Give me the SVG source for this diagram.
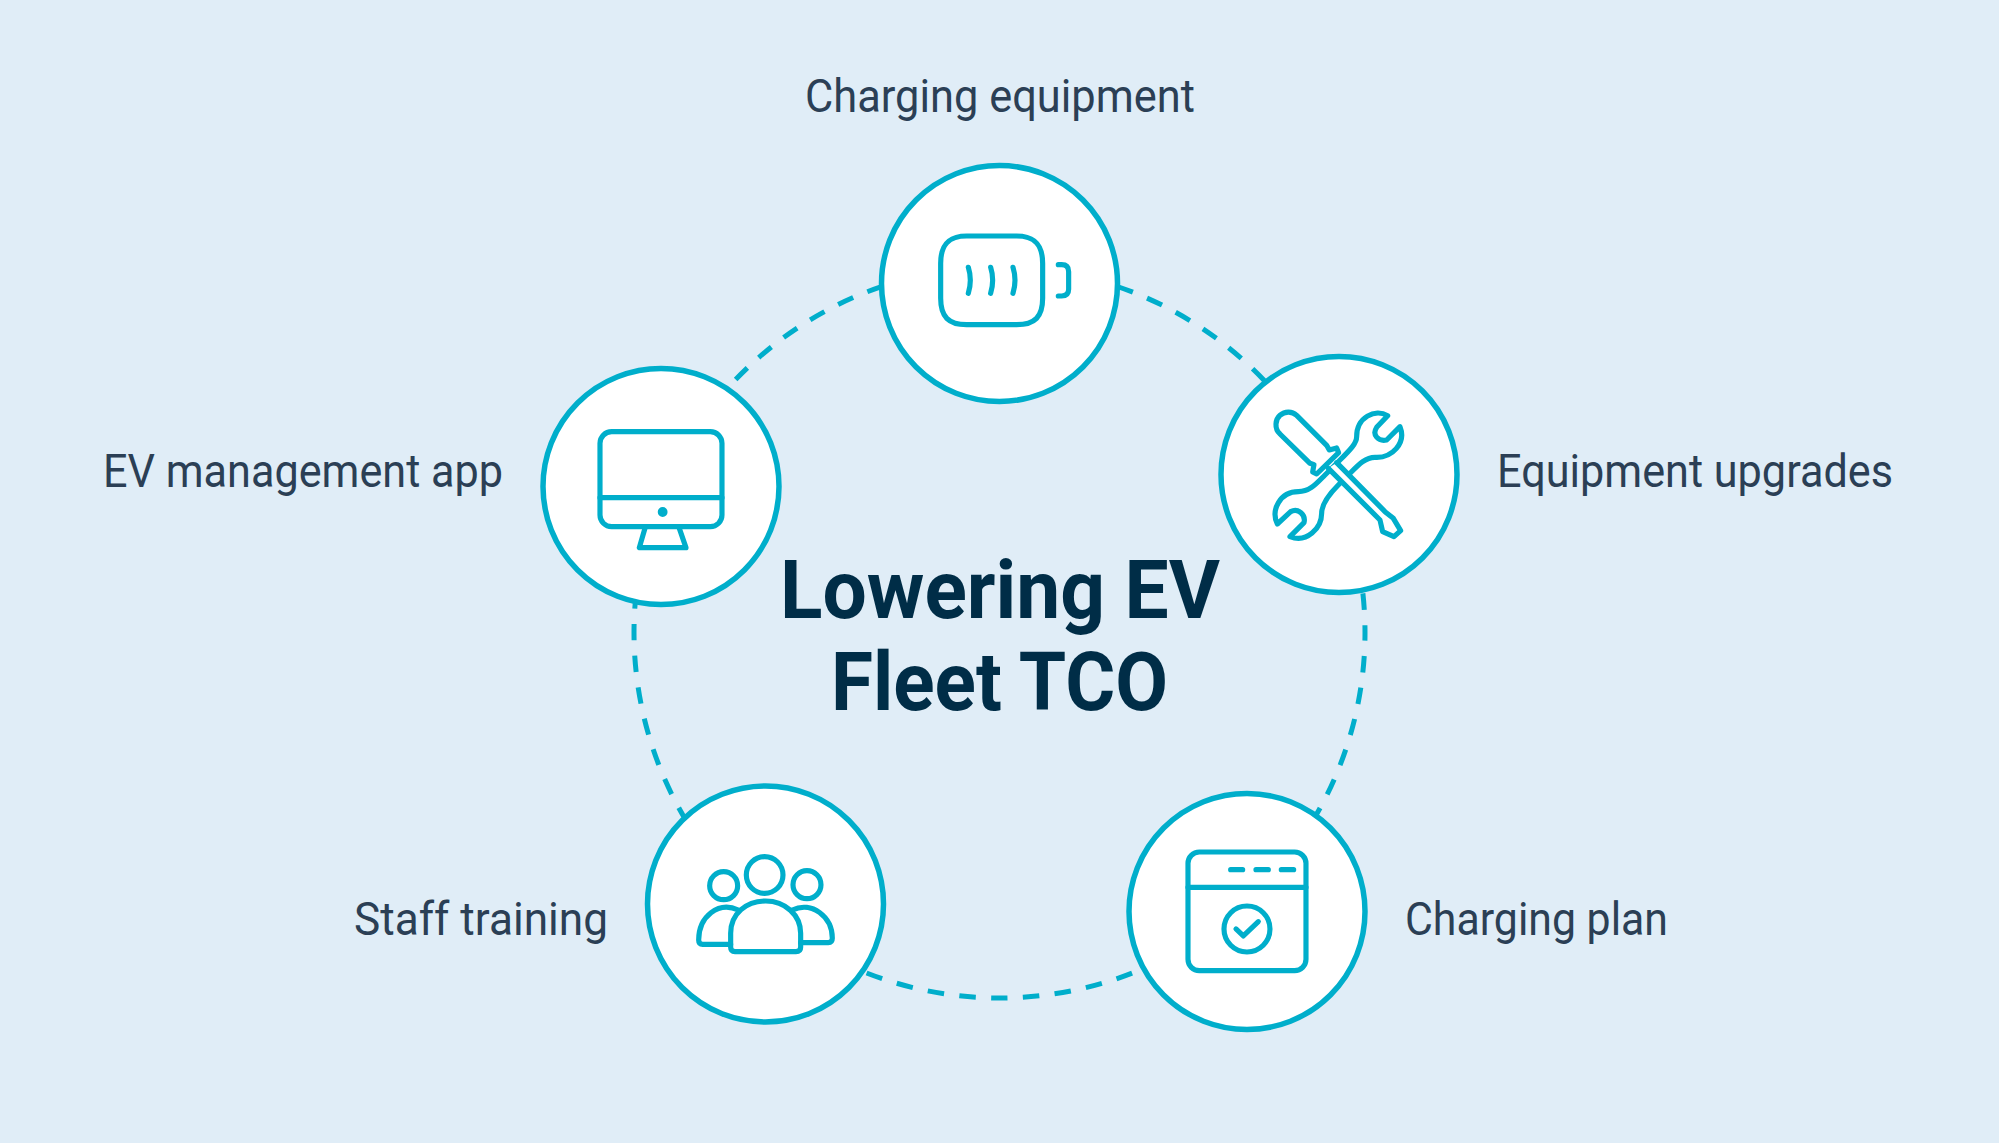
<svg xmlns="http://www.w3.org/2000/svg" width="1999" height="1143" viewBox="0 0 1999 1143">
<style>
.bg{fill:#e0edf7}
.ring{fill:none;stroke:#00aecb;stroke-width:5;stroke-dasharray:16.5 15.396}
.disc{fill:#fff;stroke:#00aecb;stroke-width:5.5}
.ic{fill:none;stroke:#00aecb;stroke-width:15.5;stroke-linecap:round;stroke-linejoin:round}
.lab{font-family:"Roboto","Liberation Sans",sans-serif;font-size:46px;fill:#2b3f55}
.title{font-family:"Roboto","Liberation Sans",sans-serif;font-weight:700;font-size:82px;fill:#002d47}
</style>
<rect class="bg" width="1999" height="1143"/>
<g id="connectors"><circle class="ring" cx="999.5" cy="632.5" r="365.5" stroke-dashoffset="8.3"/></g>
<g id="node-charging-equipment">
<circle class="disc" cx="999.5" cy="283.5" r="118"/>
<text class="lab" x="805" y="111.5" textLength="390" lengthAdjust="spacingAndGlyphs">Charging equipment</text>
<g class="ic" transform="translate(860,150) scale(.3333)">
<path d="M320 258H470C525 258 548 285 548 340V445C548 500 525 524 470 524H320C265 524 242 500 242 445V340C242 285 265 258 320 258Z"/>
<path d="M325 352Q337 390 325 430M392 352Q404 390 392 430M459 352Q471 390 459 430"/>
<path d="M595 344H605Q626 344 626 365V418Q626 438 605 438H595"/>
</g>
</g>
<g id="node-equipment-upgrades">
<circle class="disc" cx="1339" cy="474.5" r="118"/>
<text class="lab" x="1497" y="487" textLength="396" lengthAdjust="spacingAndGlyphs">Equipment upgrades</text>
<g class="ic" transform="translate(1200,340) scale(.3333)">
<path d="M563 227C525 205 470 232 470 290C470 310 450 330 420 360L375 405C350 430 330 455 295 455C240 455 212 510 232 552L272 515C295 503 318 525 312 548L270 590C320 610 365 565 365 520C365 495 385 465 415 435L445 405C475 375 495 352 525 352C575 355 620 310 600 260L560 300C535 305 515 285 530 262Z"/>
<path d="M385 385L540 540L548 575L582 590L602 572L580 535L555 515L410 368" fill="#fff"/>
<path d="M240 282C222 265 226 238 240 226C254 214 275 212 290 226L380 316L388 330L410 324L416 338L350 402L338 396L342 374L330 370Z" fill="#fff"/>
</g>
</g>
<g id="node-charging-plan">
<circle class="disc" cx="1247" cy="911.5" r="118"/>
<text class="lab" x="1405" y="935" textLength="263" lengthAdjust="spacingAndGlyphs">Charging plan</text>
<g class="ic" transform="translate(1110,780) scale(.3333)">
<rect x="234" y="216" width="354" height="356" rx="34"/>
<path d="M234 322H588M362 269H398M438 269H475M514 269H551"/>
<circle cx="411" cy="447" r="69"/>
<path d="M378 447L400 468L445 425"/>
</g>
</g>
<g id="node-staff-training">
<circle class="disc" cx="765.5" cy="904" r="118"/>
<text class="lab" x="354" y="935" textLength="254" lengthAdjust="spacingAndGlyphs">Staff training</text>
<g class="ic" transform="translate(630,770) scale(.3333)">
<circle cx="404" cy="315" r="55"/>
<circle cx="281" cy="347" r="42"/>
<circle cx="531" cy="344" r="42"/>
<path d="M315 545Q302 545 302 532V490C302 430 350 393 407 393C465 393 512 435 512 490V532Q512 545 498 545Z"/>
<path d="M325 420C265 392 206 440 206 510Q206 523 218 523H302"/>
<path d="M487 420C545 392 607 440 607 505Q607 518 595 518H512"/>
</g>
</g>
<g id="node-ev-management-app">
<circle class="disc" cx="661" cy="486.5" r="118"/>
<text class="lab" x="103" y="487" textLength="400" lengthAdjust="spacingAndGlyphs">EV management app</text>
<g class="ic" transform="translate(530,355) scale(.3333)">
<rect x="210" y="230" width="366" height="285" rx="35"/>
<path d="M210 428H576M345 520L328 578H468L448 520"/>
<circle cx="398" cy="471" r="7" fill="#00aecb"/>
</g>
</g>
<g id="title">
<text class="title" x="780" y="618" textLength="440" lengthAdjust="spacingAndGlyphs">Lowering EV</text>
<text class="title" x="831" y="710" textLength="337" lengthAdjust="spacingAndGlyphs">Fleet TCO</text>
</g>
</svg>
